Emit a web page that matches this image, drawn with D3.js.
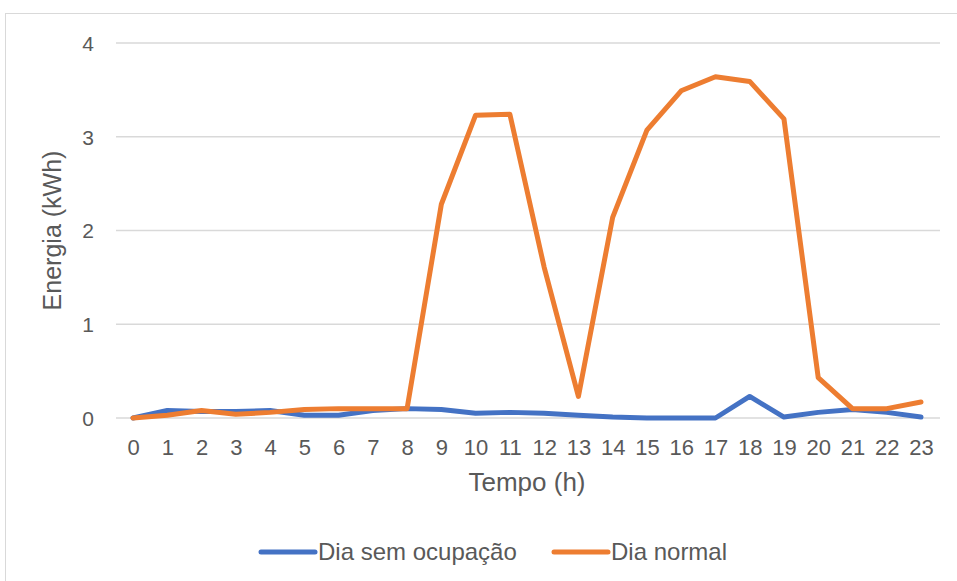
<!DOCTYPE html>
<html>
<head>
<meta charset="utf-8">
<script src="https://cdn.jsdelivr.net/npm/d3@7"></script>
<style>
  body { margin: 0; background: #fff; }
  svg text { font-family: "Liberation Sans", Arial, sans-serif; fill: #595959; }
</style>
</head>
<body>
<div id="chart"></div>
<script>
const hours = d3.range(0, 24);
const semOcupacao = [0, 0.08, 0.07, 0.07, 0.08, 0.03, 0.03, 0.08, 0.1, 0.09, 0.05, 0.06, 0.05, 0.03, 0.01, 0, 0, 0, 0.23, 0.01, 0.06, 0.09, 0.06, 0.01];
const diaNormal = [0, 0.03, 0.08, 0.04, 0.06, 0.09, 0.1, 0.1, 0.1, 2.28, 3.23, 3.24, 1.61, 0.23, 2.14, 3.07, 3.49, 3.64, 3.59, 3.19, 0.43, 0.1, 0.1, 0.17];
const yTicks = [0, 1, 2, 3, 4];

const series = [
  { name: "Dia sem ocupação", values: semOcupacao, color: "#4472C4" },
  { name: "Dia normal", values: diaNormal, color: "#ED7D31" }
];

const width = 957, height = 581;
const svg = d3.select("#chart").append("svg")
  .attr("width", width).attr("height", height);

svg.append("rect")
  .attr("x", 5.5).attr("y", 13.5)
  .attr("width", 960).attr("height", 580)
  .attr("fill", "#fff").attr("stroke", "#D9D9D9");

const plot = { left: 116, right: 940, top: 43, bottom: 418 };

const x = d3.scalePoint().domain(hours).range([133, 921]);
const y = d3.scaleLinear().domain([0, 4]).range([plot.bottom, plot.top]);

// gridlines
svg.append("g")
  .selectAll("line").data(yTicks).join("line")
  .attr("x1", plot.left).attr("x2", plot.right)
  .attr("y1", d => y(d)).attr("y2", d => y(d))
  .attr("stroke", "#D9D9D9").attr("stroke-width", 1.3);

// y axis labels
const yAxis = svg.append("g")
  .attr("transform", `translate(${plot.left - 22},0)`)
  .call(d3.axisLeft(y).tickValues(yTicks).tickFormat(d3.format("d")).tickSize(0).tickPadding(0));
yAxis.select(".domain").remove();
yAxis.selectAll("text").attr("font-size", 21).attr("dy", "0.35em");

// x axis labels
const xAxis = svg.append("g")
  .attr("transform", `translate(0,455)`)
  .call(d3.axisBottom(x).tickSize(0).tickPadding(0));
xAxis.select(".domain").remove();
xAxis.selectAll("text").attr("font-size", 22).attr("y", 0).attr("dy", 0);

// axis titles
svg.append("text")
  .attr("x", (plot.left + plot.right) / 2 - 1).attr("y", 491)
  .attr("text-anchor", "middle").attr("font-size", 26)
  .text("Tempo (h)");

svg.append("text")
  .attr("transform", `translate(61,${(plot.top + plot.bottom) / 2}) rotate(-90)`)
  .attr("text-anchor", "middle").attr("font-size", 25)
  .text("Energia (kWh)");

// lines
const line = d3.line()
  .x((d, i) => x(hours[i]))
  .y(d => y(d));

svg.append("g")
  .selectAll("path").data(series).join("path")
  .attr("d", d => line(d.values))
  .attr("fill", "none")
  .attr("stroke", d => d.color)
  .attr("stroke-width", 5)
  .attr("stroke-linejoin", "round")
  .attr("stroke-linecap", "round");

// legend
const legendItems = [
  { s: series[0], x: 261 },
  { s: series[1], x: 554 }
];
const legend = svg.append("g").selectAll("g").data(legendItems).join("g")
  .attr("transform", d => `translate(${d.x},552)`);
legend.append("line")
  .attr("x1", 0).attr("x2", 54)
  .attr("stroke", d => d.s.color)
  .attr("stroke-width", 5)
  .attr("stroke-linecap", "round");
legend.append("text")
  .attr("x", 57).attr("dy", "0.35em")
  .attr("font-size", 24)
  .text(d => d.s.name);
</script>
</body>
</html>
